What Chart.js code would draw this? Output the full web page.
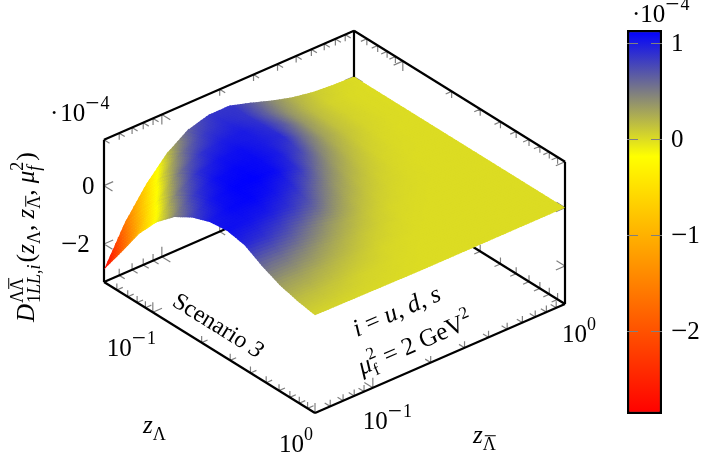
<!DOCTYPE html>
<html>
<head>
<meta charset="utf-8">
<style>
  html, body { margin: 0; padding: 0; background: #fff; }
  #wrap { position: relative; width: 714px; height: 460px; overflow: hidden; }
  canvas { position: absolute; top: 0; }
  #surface { left: 0; }
  #bar { left: 600px; }
</style>
<script src="https://cdn.jsdelivr.net/npm/chart.js@4"></script>
</head>
<body>
<div id="wrap">
  <canvas id="surface" width="714" height="460"></canvas>
  <canvas id="bar" width="114" height="460"></canvas>
</div>
<script>
// sample positions on both axes (log spaced like the original grid)
const zLambda = [0.05, 0.0642, 0.0824, 0.1057, 0.1357, 0.1742, 0.2236, 0.287, 0.3684, 0.4729, 0.607, 0.7791, 1];
const zBar = [0.05, 0.0642, 0.0824, 0.1057, 0.1357, 0.1742, 0.2236, 0.287, 0.3684, 0.4729, 0.607, 0.7791, 1];

// surface height in units of 1e-4, row = zLambda, column = zBar
const surfaceZ = [
  [-2.87, -1.58, -0.6, 0.16, 0.65, 0.86, 0.87, 0.66, 0.42, 0.22, 0.09, 0.03, 0],
  [-1.9, -0.75, 0.08, 0.59, 0.85, 0.93, 0.87, 0.63, 0.37, 0.17, 0.05, 0.01, 0],
  [-0.9, -0.02, 0.58, 0.89, 0.99, 1.0, 0.9, 0.65, 0.35, 0.15, 0.05, 0.01, 0],
  [-0.13, 0.52, 0.91, 1.04, 1.07, 1.0, 0.92, 0.58, 0.3, 0.13, 0.04, 0.01, 0],
  [0.42, 0.86, 1.07, 1.11, 1.09, 1.0, 0.78, 0.45, 0.22, 0.08, 0.02, 0, 0],
  [0.78, 1.04, 1.13, 1.14, 1.08, 0.9, 0.56, 0.3, 0.14, 0.04, 0.01, 0, 0],
  [1.0, 1.1, 1.12, 1.05, 0.92, 0.62, 0.36, 0.18, 0.07, 0.02, 0, 0, 0],
  [1.07, 1.05, 1.0, 0.88, 0.68, 0.41, 0.21, 0.09, 0.03, 0.01, 0, 0, 0],
  [0.95, 0.88, 0.74, 0.55, 0.36, 0.22, 0.1, 0.03, 0.01, 0, 0, 0, 0],
  [0.6, 0.55, 0.44, 0.31, 0.2, 0.1, 0.04, 0.01, 0, 0, 0, 0, 0],
  [0.33, 0.3, 0.23, 0.16, 0.09, 0.03, 0.01, 0, 0, 0, 0, 0, 0],
  [0.16, 0.14, 0.1, 0.05, 0.03, 0.01, 0, 0, 0, 0, 0, 0, 0],
  [0.05, 0.04, 0.03, 0.02, 0.01, 0, 0, 0, 0, 0, 0, 0, 0],
];

const logMajor = [0.1, 1];
const logMinor = [0.05, 0.06, 0.07, 0.08, 0.09, 0.2, 0.3, 0.4, 0.5, 0.6, 0.7, 0.8, 0.9];
const zTicks = [-2, 0];
const barTicks = [-2, -1, 0, 1];

const zFloor = -3.3;
const zCeil = 1.57;
const logMin = Math.log10(0.05);
const barMin = -2.87;
const barMax = 1.14;

const colormap = [[-2.87, [255, 0, 0]], [-0.18, [255, 255, 0]], [1.14, [0, 0, 255]]];

const serif = '"Liberation Serif"';

// 3d view: where the three axes end up on the page
const view = { x0: 104, y0: 282, xx: 211, xy: 131, yx: 250, yy: -109, zy: -29.2 };

function project(zl, zb, z) {
  const u = (Math.log10(zl) - logMin) / -logMin;
  const v = (Math.log10(zb) - logMin) / -logMin;
  return {
    x: view.x0 + view.xx * u + view.yx * v,
    y: view.y0 + view.xy * u + view.yy * v + view.zy * (z - zFloor),
  };
}

function colorAt(z) {
  const [a, b] = z < colormap[1][0] ? [colormap[0], colormap[1]] : [colormap[1], colormap[2]];
  let t = (z - a[0]) / (b[0] - a[0]);
  t = Math.max(0, Math.min(1, t));
  const c = a[1].map((v, k) => Math.round(v + (b[1][k] - v) * t));
  return `rgb(${c[0]},${c[1]},${c[2]})`;
}

const gap = { x: NaN, y: NaN };

// unit directions for the small tick marks
const dirs = {
  px: [0.85, 0.528], mx: [-0.85, -0.528],
  py: [0.917, -0.4], my: [-0.917, 0.4],
  pz: [0, -1], mz: [0, 1],
};

function tickMarks(points, dirA, dirB, len) {
  const out = [];
  points.forEach((p) => {
    [dirA, dirB].forEach((d) => {
      out.push(p, { x: p.x + dirs[d][0] * len, y: p.y + dirs[d][1] * len }, gap);
    });
  });
  return out;
}

const zlMin = 0.05, zlMax = 1, zbMin = 0.05, zbMax = 1;

// box edges that the original shows
const boxLines = [
  [project(zlMin, zbMin, zFloor), project(zlMax, zbMin, zFloor)],
  [project(zlMax, zbMin, zFloor), project(zlMax, zbMax, zFloor)],
  [project(zlMin, zbMin, zFloor), project(zlMin, zbMax, zFloor)],
  [project(zlMin, zbMax, zFloor), project(zlMax, zbMax, zFloor)],
  [project(zlMin, zbMin, zFloor), project(zlMin, zbMin, zCeil)],
  [project(zlMax, zbMax, zFloor), project(zlMax, zbMax, zCeil)],
  [project(zlMin, zbMax, zFloor), project(zlMin, zbMax, zCeil)],
  [project(zlMin, zbMin, zCeil), project(zlMin, zbMax, zCeil)],
  [project(zlMin, zbMax, zCeil), project(zlMax, zbMax, zCeil)],
];

const tickData = [];
function addLogTicks(vals, len) {
  tickData.push(...tickMarks(vals.map((v) => project(v, zbMin, zFloor)), 'py', 'pz', len));
  tickData.push(...tickMarks(vals.map((v) => project(v, zbMax, zFloor)), 'my', 'pz', len));
  tickData.push(...tickMarks(vals.map((v) => project(v, zbMax, zCeil)), 'my', 'mz', len));
  tickData.push(...tickMarks(vals.map((v) => project(zlMin, v, zFloor)), 'px', 'pz', len));
  tickData.push(...tickMarks(vals.map((v) => project(zlMax, v, zFloor)), 'mx', 'pz', len));
  tickData.push(...tickMarks(vals.map((v) => project(zlMin, v, zCeil)), 'px', 'mz', len));
}
addLogTicks(logMajor, 10);
addLogTicks(logMinor, 6.5);
tickData.push(...tickMarks(zTicks.map((v) => project(zlMin, zbMin, v)), 'px', 'py', 10));
tickData.push(...tickMarks(zTicks.map((v) => project(zlMax, zbMax, v)), 'mx', 'my', 10));
tickData.push(...tickMarks(zTicks.map((v) => project(zlMin, zbMax, v)), 'px', 'my', 10));

const surfacePoints = [];
zLambda.forEach((zl, i) => {
  zBar.forEach((zb, j) => {
    const p = project(zl, zb, surfaceZ[i][j]);
    surfacePoints.push({ x: p.x, y: p.y, z: surfaceZ[i][j] });
  });
});

function drawRuns(ctx, x, y, angle, runs) {
  ctx.save();
  ctx.translate(x, y);
  ctx.rotate(angle);
  ctx.fillStyle = '#000';
  ctx.textAlign = 'left';
  ctx.textBaseline = 'alphabetic';
  let pen = 0;
  runs.forEach((r) => {
    ctx.font = `${r.it ? 'italic ' : ''}${r.s}px ${serif}`;
    const w = ctx.measureText(r.t).width;
    ctx.fillText(r.t, pen, r.dy || 0);
    if (r.over) {
      // bar over the Lambda
      ctx.fillRect(pen + w - r.over, (r.dy || 0) - r.s * 0.82, r.over, 1);
    }
    if (!r.stay) pen += w + (r.gap || 0);
  });
  ctx.restore();
}

const pow10 = (minus, digit) => [
  { t: '10', s: 25 },
  ...(minus ? [{ t: '\u2212', s: 25, dy: -10, gap: 1 }] : []),
  { t: digit, s: 18, dy: -12 },
];

const numRuns = (v) => (v < 0
  ? [{ t: '\u2212', s: 29, dy: 1 }, { t: String(-v), s: 25 }]
  : [{ t: String(v), s: 25 }]);

// shaded surface, back to front, every cell split up so the colour runs smoothly
const surfacePlugin = {
  id: 'surface',
  afterDatasetsDraw(chart) {
    const ctx = chart.ctx;
    const pts = chart.getDatasetMeta(0).data;
    const vals = surfacePoints;
    const n = zBar.length;
    const sub = 8;
    const lap = 0.5 / sub;
    ctx.save();
    for (let i = 0; i < zLambda.length - 1; i++) {
      for (let j = n - 2; j >= 0; j--) {
        const idx = [i * n + j, i * n + j + 1, (i + 1) * n + j, (i + 1) * n + j + 1];
        const c = idx.map((k) => ({ x: pts[k].x, y: pts[k].y, z: vals[k].z }));
        const mix = (a, b, key) =>
          (1 - a) * ((1 - b) * c[0][key] + b * c[1][key]) + a * ((1 - b) * c[2][key] + b * c[3][key]);
        for (let a = 0; a < sub; a++) {
          for (let b = sub - 1; b >= 0; b--) {
            // later cells lap over earlier ones, that hides the seams
            const a0 = a === 0 && i === 0 ? 0 : a / sub - lap;
            const a1 = (a + 1) / sub;
            const b0 = b / sub;
            const b1 = b === sub - 1 && j === n - 2 ? 1 : (b + 1) / sub + lap;
            ctx.fillStyle = colorAt(mix((a + 0.5) / sub, (b + 0.5) / sub, 'z'));
            ctx.beginPath();
            ctx.moveTo(mix(a0, b0, 'x'), mix(a0, b0, 'y'));
            ctx.lineTo(mix(a1, b0, 'x'), mix(a1, b0, 'y'));
            ctx.lineTo(mix(a1, b1, 'x'), mix(a1, b1, 'y'));
            ctx.lineTo(mix(a0, b1, 'x'), mix(a0, b1, 'y'));
            ctx.closePath();
            ctx.fill();
          }
        }
      }
    }
    ctx.restore();
  },
  afterDraw(chart) {
    const ctx = chart.ctx;
    const sx = chart.scales.x, sy = chart.scales.y;
    const at = (p) => ({ x: sx.getPixelForValue(p.x), y: sy.getPixelForValue(p.y) });

    // log axis labels, hung off the tick position
    let p = at(project(0.1, zbMin, zFloor));
    drawRuns(ctx, p.x - 46, p.y + 44, 0, pow10(true, '1'));
    p = at(project(1, zbMin, zFloor));
    drawRuns(ctx, p.x - 36, p.y + 39, 0, pow10(false, '0'));
    p = at(project(zlMax, 0.1, zFloor));
    drawRuns(ctx, p.x - 10, p.y + 41, 0, pow10(true, '1'));
    p = at(project(zlMax, 1, zFloor));
    drawRuns(ctx, p.x - 3, p.y + 38, 0, pow10(false, '0'));

    // z axis labels
    zTicks.forEach((v) => {
      const q = at(project(zlMin, zbMin, v));
      const runs = numRuns(v);
      drawRuns(ctx, q.x - (v < 0 ? 43 : 22), q.y + 8, 0, runs);
    });
    drawRuns(ctx, 50, 121, 0, [{ t: '\u00b7', s: 25, gap: 2 }, ...pow10(true, '4')]);

    // axis titles
    drawRuns(ctx, 143, 433, 0, [{ t: 'z', s: 25, it: true }, { t: '\u039b', s: 18, dy: 7 }]);
    drawRuns(ctx, 473, 443, 0, [{ t: 'z', s: 25, it: true }, { t: '\u039b', s: 18, dy: 7, over: 11 }]);
    drawRuns(ctx, 34, 322, -Math.PI / 2, [
      { t: 'D', s: 25, it: true, gap: 1 },
      { t: '\u039b', s: 18, dy: -11, stay: true },
      { t: '1', s: 18, dy: 6 },
      { t: 'LL', s: 18, it: true, dy: 6 },
      { t: ',', s: 18, dy: 6 },
      { t: 'i', s: 18, it: true, dy: 6, gap: 2 },
      { t: '(', s: 26 },
      { t: 'z', s: 25, it: true },
      { t: '\u039b', s: 18, dy: 6 },
      { t: ', ', s: 25 },
      { t: 'z', s: 25, it: true },
      { t: '\u039b', s: 18, dy: 6, over: 11 },
      { t: ', ', s: 25 },
      { t: '\u03bc', s: 25, it: true },
      { t: '2', s: 18, dy: -11, stay: true },
      { t: 'f', s: 18, it: true, dy: 6, gap: 5 },
      { t: ')', s: 26 },
    ]);
    // second Lambda of the superscript
    drawRuns(ctx, 34, 322 - 31, -Math.PI / 2, [{ t: '\u039b', s: 18, dy: -11, over: 11 }]);

    // notes lying on the floor of the box
    const floorA = Math.atan2(view.xy, view.xx);
    const floorB = Math.atan2(view.yy, view.yx);
    drawRuns(ctx, 171, 305, floorA, [{ t: 'Scenario ', s: 24 }, { t: '3', s: 24, it: true }]);
    drawRuns(ctx, 357, 337, floorB, [
      { t: 'i', s: 25, it: true },
      { t: ' = ', s: 25 },
      { t: 'u', s: 25, it: true },
      { t: ', ', s: 25 },
      { t: 'd', s: 25, it: true },
      { t: ', ', s: 25 },
      { t: 's', s: 25, it: true },
    ]);
    drawRuns(ctx, 362, 375, floorB, [
      { t: '\u03bc', s: 25, it: true },
      { t: '2', s: 17, dy: -11, stay: true },
      { t: 'f', s: 17, dy: 6, gap: 3 },
      { t: ' = 2 GeV', s: 25 },
      { t: '2', s: 17, dy: -11 },
    ]);
  },
};

new Chart(document.getElementById('surface'), {
  type: 'scatter',
  data: {
    datasets: [
      { data: surfacePoints, showLine: false, pointRadius: 0, order: 0 },
      { data: tickData, showLine: true, spanGaps: false, borderColor: '#808080', borderWidth: 1.2, pointRadius: 0, order: 2 },
      ...boxLines.map((line) => ({
        data: line, showLine: true, borderColor: '#000', borderWidth: 2.2, pointRadius: 0, order: 1,
      })),
    ],
  },
  options: {
    responsive: false,
    animation: false,
    events: [],
    layout: { padding: 0 },
    scales: {
      x: { display: false, min: 0, max: 714 },
      y: { display: false, min: 0, max: 460, reverse: true },
    },
    plugins: { legend: { display: false }, tooltip: { enabled: false } },
  },
  plugins: [surfacePlugin],
});

// colour bar
const barPlugin = {
  id: 'barTicks',
  afterDatasetsDraw(chart) {
    const ctx = chart.ctx;
    const area = chart.chartArea;
    const s = chart.scales.y;
    ctx.save();
    ctx.strokeStyle = '#808080';
    ctx.lineWidth = 1;
    barTicks.forEach((v) => {
      const y = Math.round(s.getPixelForValue(v)) + 0.5;
      ctx.beginPath();
      ctx.moveTo(area.left, y);
      ctx.lineTo(area.left + 11, y);
      ctx.moveTo(area.right - 11, y);
      ctx.lineTo(area.right, y);
      ctx.stroke();
    });
    ctx.restore();
    barTicks.forEach((v) => {
      drawRuns(ctx, area.right + 9, s.getPixelForValue(v) + 8, 0, numRuns(v));
    });
    drawRuns(ctx, 32, 22, 0, [{ t: '\u00b7', s: 25, gap: 0 }, ...pow10(true, '4')]);
  },
};

new Chart(document.getElementById('bar'), {
  type: 'bar',
  data: {
    labels: ['colormap'],
    datasets: [{
      data: [[barMin, barMax]],
      barPercentage: 1,
      categoryPercentage: 1,
      borderColor: '#000',
      borderWidth: 2.5,
      borderSkipped: false,
      backgroundColor: (c) => {
        const area = c.chart.chartArea;
        if (!area) return '#fff';
        const s = c.chart.scales.y;
        const g = c.chart.ctx.createLinearGradient(0, s.getPixelForValue(barMin), 0, s.getPixelForValue(barMax));
        colormap.forEach((m) => {
          g.addColorStop((m[0] - barMin) / (barMax - barMin), colorAt(m[0]));
        });
        return g;
      },
    }],
  },
  options: {
    responsive: false,
    animation: false,
    events: [],
    layout: { padding: { left: 27, right: 0, top: 30, bottom: 46 } },
    scales: {
      x: { display: false },
      y: {
        position: 'right',
        min: barMin,
        max: barMax,
        afterFit: (s) => { s.width = 52; },
        afterBuildTicks: (s) => { s.ticks = barTicks.map((v) => ({ value: v })); },
        grid: { display: false },
        border: { display: false },
        ticks: { display: false },
      },
    },
    plugins: { legend: { display: false }, tooltip: { enabled: false } },
  },
  plugins: [barPlugin],
});
</script>
</body>
</html>
